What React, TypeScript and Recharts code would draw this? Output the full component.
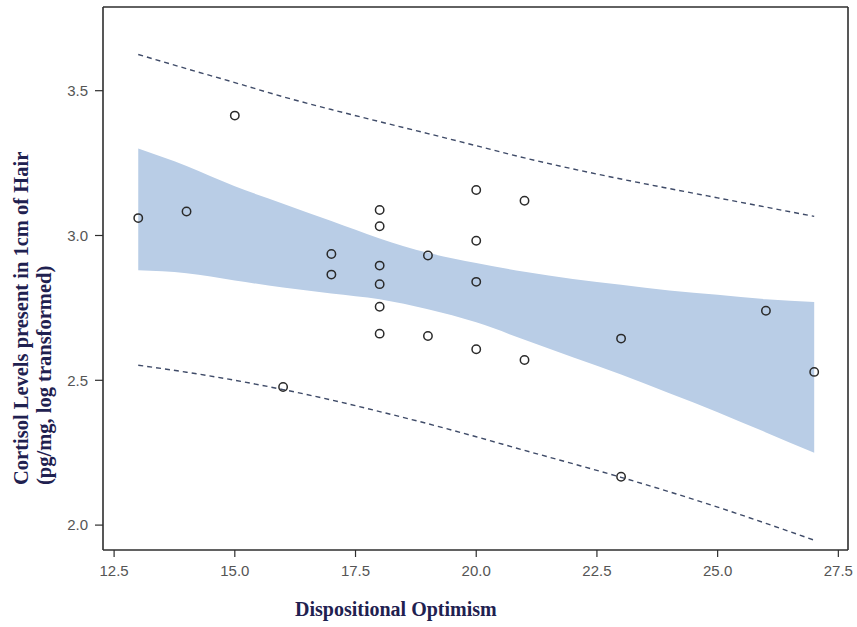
import {
  ComposedChart,
  Area,
  Line,
  Scatter,
  XAxis,
  YAxis,
  ReferenceLine,
} from 'recharts';

// observed points
const optimism = [13, 14, 15, 16, 17, 17, 18, 18, 18, 18, 18, 18, 19, 19, 20, 20, 20, 20, 21, 21, 23, 23, 26, 27];
const cortisol = [3.06, 3.083, 3.414, 2.477, 2.936, 2.865, 3.088, 3.032, 2.896, 2.832, 2.754, 2.661, 2.931, 2.653, 3.157, 2.982, 2.84, 2.607, 3.12, 2.57, 2.644, 2.167, 2.74, 2.529];

// fit bands
const fitX = [13, 14, 15, 16, 17, 18, 19, 20, 21, 22, 23, 24, 25, 26, 27];
const ciUpper = [3.3, 3.24, 3.17, 3.11, 3.05, 2.99, 2.94, 2.905, 2.875, 2.85, 2.83, 2.81, 2.795, 2.78, 2.77];
const ciLower = [2.88, 2.87, 2.845, 2.82, 2.8, 2.78, 2.745, 2.7, 2.64, 2.58, 2.52, 2.455, 2.39, 2.32, 2.25];
const piUpper = [3.625, 3.576, 3.528, 3.479, 3.435, 3.393, 3.352, 3.31, 3.268, 3.23, 3.195, 3.162, 3.13, 3.098, 3.066];
const piLower = [2.552, 2.528, 2.5, 2.468, 2.432, 2.392, 2.35, 2.305, 2.258, 2.212, 2.165, 2.115, 2.062, 2.006, 1.948];

const xTicks = [12.5, 15.0, 17.5, 20.0, 22.5, 25.0, 27.5];
const yTicks = [2.0, 2.5, 3.0, 3.5];

const xDomain = [12.27, 27.7];
const yDomain = [1.914, 3.789];

const points = optimism.map((x, i) => ({ x, y: cortisol[i] }));
const fitRows = fitX.map((x, i) => ({
  x,
  band: [ciLower[i], ciUpper[i]],
  piUpper: piUpper[i],
  piLower: piLower[i],
}));

const axisColor = '#2e2e2e';
const tickStyle = { fill: '#555', fontSize: 15, fontFamily: 'Liberation Sans, Arial, sans-serif' };
const titleColor = '#1f2150';
const titleFont = 'Liberation Serif, Times New Roman, serif';

const OpenCircle = (props: any) => (
  <circle cx={props.cx} cy={props.cy} r={4.2} fill="none" stroke="#2a2a2a" strokeWidth={1.5} />
);

const YTitle = () => (
  <g fill={titleColor} fontFamily={titleFont} fontWeight="bold" fontSize={20.5}>
    <text transform="rotate(-90)" x={-485} y={28} textAnchor="start">
      Cortisol Levels present in 1cm of Hair
    </text>
    <text transform="rotate(-90)" x={-485} y={51} textAnchor="start">
      (pg/mg, log transformed)
    </text>
  </g>
);

const XTitle = () => (
  <text x={295} y={616} fill={titleColor} fontFamily={titleFont} fontWeight="bold" fontSize={20}>
    Dispositional Optimism
  </text>
);

export default function App() {
  return (
    <div style={{ position: 'absolute', left: 0, top: 0, width: 857, height: 627, background: '#fff' }}>
      <ComposedChart
        width={857}
        height={627}
        data={fitRows}
        margin={{ top: 7, right: 9, bottom: 0, left: 0 }}
      >
        <XAxis
          dataKey="x"
          type="number"
          domain={xDomain}
          allowDataOverflow
          ticks={xTicks}
          tickFormatter={(v: number) => v.toFixed(1)}
          height={77}
          tickSize={7}
          tickMargin={8}
          tick={tickStyle}
          axisLine={{ stroke: axisColor, strokeWidth: 1.6 }}
          tickLine={{ stroke: axisColor, strokeWidth: 1.2 }}
          label={<XTitle />}
        />
        <YAxis
          type="number"
          domain={yDomain}
          allowDataOverflow
          ticks={yTicks}
          tickFormatter={(v: number) => v.toFixed(1)}
          width={103}
          tickSize={8}
          tickMargin={7}
          tick={tickStyle}
          axisLine={{ stroke: axisColor, strokeWidth: 1.6 }}
          tickLine={{ stroke: axisColor, strokeWidth: 1.2 }}
          label={<YTitle />}
        />
        <Area
          dataKey="band"
          type="monotone"
          stroke="none"
          fill="#b9cde6"
          fillOpacity={1}
          isAnimationActive={false}
        />
        <Line
          dataKey="piUpper"
          type="monotone"
          stroke="#3f4b68"
          strokeWidth={1.4}
          strokeDasharray="5 4"
          dot={false}
          isAnimationActive={false}
        />
        <Line
          dataKey="piLower"
          type="monotone"
          stroke="#3f4b68"
          strokeWidth={1.4}
          strokeDasharray="5 4"
          dot={false}
          isAnimationActive={false}
        />
        <Scatter data={points} dataKey="y" shape={OpenCircle} isAnimationActive={false} />
        <ReferenceLine y={yDomain[1]} stroke={axisColor} strokeWidth={1.6} />
        <ReferenceLine x={xDomain[1]} stroke={axisColor} strokeWidth={1.6} />
      </ComposedChart>
    </div>
  );
}
